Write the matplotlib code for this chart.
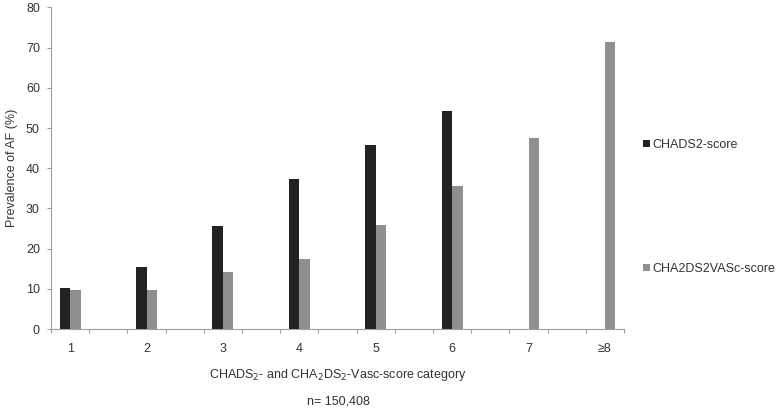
import matplotlib.pyplot as plt
import numpy as np

categories = ["1", "2", "3", "4", "5", "6", "7", "≥8"]
chads2 = [10.1, 15.4, 25.7, 37.3, 45.9, 54.2, np.nan, np.nan]
cha2ds2vasc = [9.8, 9.8, 14.2, 17.4, 25.8, 35.5, 47.6, 71.4]

plt.rcParams["font.family"] = ["Liberation Sans", "DejaVu Sans"]
txt = "#333333"
axc = "#a0a0a0"
fs = 9

fig = plt.figure(figsize=(7.78, 4.11), dpi=100)
ax = fig.add_axes([51 / 778, 82 / 411, 573 / 778, 321.5 / 411])

# each category sits in every second slot of 15 (blank slots between)
x = np.arange(len(categories)) * 2
w = 0.275
ax.bar(x - w / 2, chads2, width=w, color="#222222", label="CHADS2-score")
ax.bar(x + w / 2, cha2ds2vasc, width=w, color="#8f8f8f", label="CHA2DS2VASc-score")

ax.set_xlim(-0.5, 14.5)
ax.set_ylim(0, 80)
ax.set_yticks(range(0, 81, 10))
ax.set_xticks(np.arange(-0.5, 15, 1))
ax.set_xticklabels([])
ax.set_xticks(x, minor=True)
ax.set_xticklabels(categories, minor=True)
ax.tick_params(axis="x", which="major", length=3, color=axc, width=0.8)
ax.tick_params(axis="x", which="minor", length=0, pad=10, labelsize=fs, labelcolor=txt)
ax.tick_params(axis="y", length=3, color=axc, width=0.8, labelsize=fs, labelcolor=txt, pad=5)

for s in ["top", "right"]:
    ax.spines[s].set_visible(False)
for s in ["left", "bottom"]:
    ax.spines[s].set_color(axc)
    ax.spines[s].set_linewidth(0.8)

ax.set_ylabel("Prevalence of AF (%)", fontsize=fs, color=txt, labelpad=6)
fig.text(338 / 778, 1 - 375 / 411, "CHADS$_2$- and CHA$_2$DS$_2$-Vasc-score category",
         ha="center", va="center", fontsize=fs, color=txt)
fig.text(338 / 778, 1 - 401 / 411, "n= 150,408", ha="center", va="center",
         fontsize=fs, color=txt)

h, l = ax.get_legend_handles_labels()
fig.legend([h[0]], [l[0]], loc="center left", bbox_to_anchor=(632 / 778, 1 - 145 / 411),
           frameon=False, fontsize=fs, handlelength=0.5, handleheight=0.5,
           handletextpad=0.25, labelcolor=txt)
fig.legend([h[1]], [l[1]], loc="center left", bbox_to_anchor=(632 / 778, 1 - 269 / 411),
           frameon=False, fontsize=fs, handlelength=0.5, handleheight=0.5,
           handletextpad=0.25, labelcolor=txt)

fig.savefig("out.png", dpi=100)
